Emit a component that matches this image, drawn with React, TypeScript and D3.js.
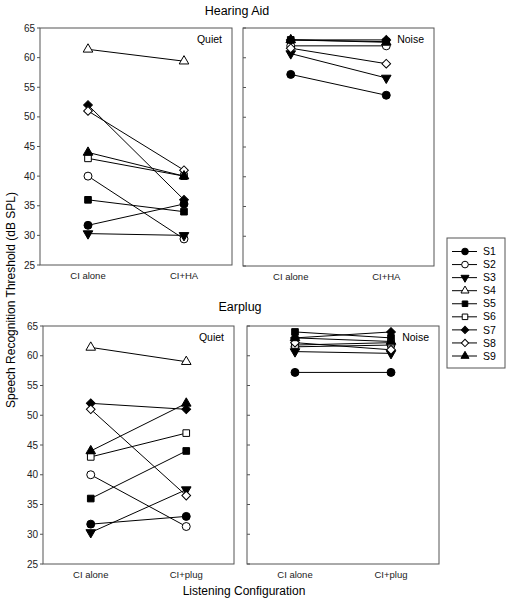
import React from "react";
import * as d3 from "d3";

const subjects = ["S1", "S2", "S3", "S4", "S5", "S6", "S7", "S8", "S9"];
const haCategories = ["CI alone", "CI+HA"];
const plugCategories = ["CI alone", "CI+plug"];
const yTicks = [25, 30, 35, 40, 45, 50, 55, 60, 65];

const haQuietAlone = [31.7, 40, 30.3, 61.4, 36, 43, 52, 51, 44];
const haQuietAided = [35.3, 29.4, 30, 59.4, 34, 40, 36, 41, 40];
const haNoiseAlone = [57.2, 62, 60.7, null, 63, null, 63, 61.6, 63];
const haNoiseAided = [53.7, 62, 56.6, null, 62.7, null, 63, 59, 62.6];

const plugQuietAlone = [31.7, 40, 30.3, 61.4, 36, 43, 52, 51, 44];
const plugQuietAided = [33, 31.3, 37.5, 59, 44, 47, 51, 36.5, 52];
const plugNoiseAlone = [57.2, 61.5, 60.7, null, 64, 61.8, 63, 62.2, 63];
const plugNoiseAided = [57.2, 61.8, 60.4, null, 63, 62.2, 64, 61, 62.4];

type Marker = { type: d3.SymbolType; filled: boolean; rotate: number; size: number };
const markers: Marker[] = [
  { type: d3.symbolCircle, filled: true, rotate: 0, size: 50 },
  { type: d3.symbolCircle, filled: false, rotate: 0, size: 50 },
  { type: d3.symbolTriangle, filled: true, rotate: 180, size: 40 },
  { type: d3.symbolTriangle, filled: false, rotate: 0, size: 40 },
  { type: d3.symbolSquare, filled: true, rotate: 0, size: 44 },
  { type: d3.symbolSquare, filled: false, rotate: 0, size: 44 },
  { type: d3.symbolSquare, filled: true, rotate: 45, size: 38 },
  { type: d3.symbolSquare, filled: false, rotate: 45, size: 38 },
  { type: d3.symbolTriangle, filled: true, rotate: 0, size: 40 },
];

const FONT = "'Liberation Sans', Arial, sans-serif";

function Sym({ m, x, y, scale = 1 }: { m: Marker; x: number; y: number; scale?: number }) {
  const d = d3.symbol().type(m.type).size(m.size * scale)()!;
  return (
    <path
      d={d}
      transform={`translate(${x},${y}) rotate(${m.rotate})`}
      fill={m.filled ? "#000" : "#fff"}
      stroke="#000"
      strokeWidth={1}
    />
  );
}

type PanelProps = {
  x0: number;
  x1: number;
  y0: number;
  y1: number;
  cats: string[];
  a: (number | null)[];
  b: (number | null)[];
  label: string;
  showYLabels: boolean;
};

function Panel({ x0, x1, y0, y1, cats, a, b, label, showYLabels }: PanelProps) {
  const x = d3.scalePoint<string>().domain(cats).range([x0, x1]).padding(0.5);
  const y = d3.scaleLinear().domain([25, 65]).range([y1, y0]);
  const line = d3
    .line<[string, number]>()
    .x((d) => x(d[0])!)
    .y((d) => y(d[1]));
  return (
    <g>
      <rect x={x0} y={y0} width={x1 - x0} height={y1 - y0} fill="none" stroke="#555" strokeWidth={1} />
      {yTicks.map((t) =>
        showYLabels ? (
          <g key={t}>
            <line x1={x0 - 3} x2={x0} y1={y(t)} y2={y(t)} stroke="#555" />
            <text x={x0 - 5} y={y(t)} dy="0.35em" textAnchor="end" fontSize={10} fontFamily={FONT} fill="#222">
              {t}
            </text>
          </g>
        ) : (
          <line key={t} x1={x0} x2={x0 + 3} y1={y(t)} y2={y(t)} stroke="#555" />
        )
      )}
      {cats.map((c) => (
        <text key={c} x={x(c)} y={y1 + 14} textAnchor="middle" fontSize={9.5} fontFamily={FONT} fill="#222">
          {c}
        </text>
      ))}
      <text x={x1 - 10} y={y0 + 15} textAnchor="end" fontSize={10.5} fontFamily={FONT} fill="#000">
        {label}
      </text>
      {subjects.map((s, i) => {
        const va = a[i];
        const vb = b[i];
        if (va == null || vb == null) return null;
        const pts: [string, number][] = [
          [cats[0], va],
          [cats[1], vb],
        ];
        return (
          <g key={s}>
            <path d={line(pts)!} fill="none" stroke="#000" strokeWidth={1} />
            {pts.map((p, j) => (
              <Sym key={j} m={markers[i]} x={x(p[0])!} y={y(p[1])} />
            ))}
          </g>
        );
      })}
    </g>
  );
}

export default function App() {
  const legendY = d3.scaleLinear().domain([0, 8]).range([251.5, 356]);
  return (
    <svg width={507} height={599} style={{ position: "absolute", left: 0, top: 0 }}>
      <rect x={0} y={0} width={507} height={599} fill="#fff" />
      <text x={237} y={15} textAnchor="middle" fontSize={12.5} fontFamily={FONT}>
        Hearing Aid
      </text>
      <text x={240} y={311} textAnchor="middle" fontSize={12.5} fontFamily={FONT}>
        Earplug
      </text>
      <text x={244} y={595} textAnchor="middle" fontSize={12} fontFamily={FONT}>
        Listening Configuration
      </text>
      <text
        transform="translate(15,300) rotate(-90)"
        textAnchor="middle"
        fontSize={12}
        fontFamily={FONT}
      >
        Speech Recognition Threshold (dB SPL)
      </text>
      <Panel x0={40} x1={232} y0={28} y1={265} cats={haCategories} a={haQuietAlone} b={haQuietAided} label="Quiet" showYLabels />
      <Panel x0={243} x1={434} y0={28} y1={266} cats={haCategories} a={haNoiseAlone} b={haNoiseAided} label="Noise" showYLabels={false} />
      <Panel x0={43} x1={234} y0={326} y1={564} cats={plugCategories} a={plugQuietAlone} b={plugQuietAided} label="Quiet" showYLabels />
      <Panel x0={247} x1={439} y0={326} y1={564} cats={plugCategories} a={plugNoiseAlone} b={plugNoiseAided} label="Noise" showYLabels={false} />
      <rect x={447} y={238} width={58} height={130} fill="#fff" stroke="#555" strokeWidth={1} />
      {subjects.map((s, i) => (
        <g key={s}>
          <line x1={452} x2={477} y1={legendY(i)} y2={legendY(i)} stroke="#000" />
          <Sym m={markers[i]} x={465} y={legendY(i)} scale={0.7} />
          <text x={483} y={legendY(i)} dy="0.35em" fontSize={10.5} fontFamily={FONT}>
            {s}
          </text>
        </g>
      ))}
    </svg>
  );
}
